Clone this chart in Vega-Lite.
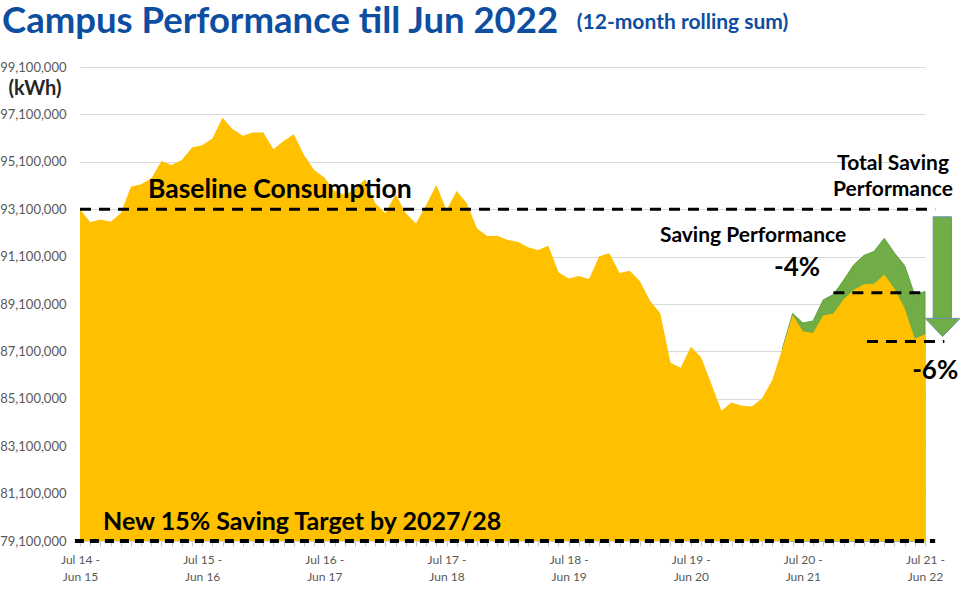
{
  "$schema": "https://vega.github.io/schema/vega-lite/v6.json",
  "autosize": "none",
  "width": 845,
  "height": 474,
  "padding": {"left": 80, "top": 67, "right": 35, "bottom": 59},
  "background": "white",
  "config": {"view": {"stroke": null}, "font": "Lato"},
  "title": {"text": "Campus Performance till Jun 2022", "anchor": "start", "frame": "group", "dx": -78, "dy": 58, "font": "Lato", "fontSize": 36.5, "fontWeight": "bold", "color": "#0D4EA1", "baseline": "alphabetic", "offset": 0},
  "datasets": {"energy": [
    {"i":0,"period":"Jul 14 - Jun 15","actual":93100000,"adjusted":null},
    {"i":1,"period":"Aug 14 - Jul 15","actual":92550000,"adjusted":null},
    {"i":2,"period":"Sep 14 - Aug 15","actual":92670000,"adjusted":null},
    {"i":3,"period":"Oct 14 - Sep 15","actual":92570000,"adjusted":null},
    {"i":4,"period":"Nov 14 - Oct 15","actual":92930000,"adjusted":null},
    {"i":5,"period":"Dec 14 - Nov 15","actual":94050000,"adjusted":null},
    {"i":6,"period":"Jan 15 - Dec 15","actual":94150000,"adjusted":null},
    {"i":7,"period":"Feb 15 - Jan 16","actual":94400000,"adjusted":null},
    {"i":8,"period":"Mar 15 - Feb 16","actual":95130000,"adjusted":null},
    {"i":9,"period":"Apr 15 - Mar 16","actual":94960000,"adjusted":null},
    {"i":10,"period":"May 15 - Apr 16","actual":95180000,"adjusted":null},
    {"i":11,"period":"Jun 15 - May 16","actual":95700000,"adjusted":null},
    {"i":12,"period":"Jul 15 - Jun 16","actual":95800000,"adjusted":null},
    {"i":13,"period":"Aug 15 - Jul 16","actual":96080000,"adjusted":null},
    {"i":14,"period":"Sep 15 - Aug 16","actual":96960000,"adjusted":null},
    {"i":15,"period":"Oct 15 - Sep 16","actual":96470000,"adjusted":null},
    {"i":16,"period":"Nov 15 - Oct 16","actual":96200000,"adjusted":null},
    {"i":17,"period":"Dec 15 - Nov 16","actual":96340000,"adjusted":null},
    {"i":18,"period":"Jan 16 - Dec 16","actual":96340000,"adjusted":null},
    {"i":19,"period":"Feb 16 - Jan 17","actual":95630000,"adjusted":null},
    {"i":20,"period":"Mar 16 - Feb 17","actual":95980000,"adjusted":null},
    {"i":21,"period":"Apr 16 - Mar 17","actual":96260000,"adjusted":null},
    {"i":22,"period":"May 16 - Apr 17","actual":95390000,"adjusted":null},
    {"i":23,"period":"Jun 16 - May 17","actual":94750000,"adjusted":null},
    {"i":24,"period":"Jul 16 - Jun 17","actual":94440000,"adjusted":null},
    {"i":25,"period":"Aug 16 - Jul 17","actual":93880000,"adjusted":null},
    {"i":26,"period":"Sep 16 - Aug 17","actual":93700000,"adjusted":null},
    {"i":27,"period":"Oct 16 - Sep 17","actual":93950000,"adjusted":null},
    {"i":28,"period":"Nov 16 - Oct 17","actual":94360000,"adjusted":null},
    {"i":29,"period":"Dec 16 - Nov 17","actual":93350000,"adjusted":null},
    {"i":30,"period":"Jan 17 - Dec 17","actual":92930000,"adjusted":null},
    {"i":31,"period":"Feb 17 - Jan 18","actual":93730000,"adjusted":null},
    {"i":32,"period":"Mar 17 - Feb 18","actual":92930000,"adjusted":null},
    {"i":33,"period":"Apr 17 - Mar 18","actual":92500000,"adjusted":null},
    {"i":34,"period":"May 17 - Apr 18","actual":93280000,"adjusted":null},
    {"i":35,"period":"Jun 17 - May 18","actual":94120000,"adjusted":null},
    {"i":36,"period":"Jul 17 - Jun 18","actual":93070000,"adjusted":null},
    {"i":37,"period":"Aug 17 - Jul 18","actual":93870000,"adjusted":null},
    {"i":38,"period":"Sep 17 - Aug 18","actual":93350000,"adjusted":null},
    {"i":39,"period":"Oct 17 - Sep 18","actual":92290000,"adjusted":null},
    {"i":40,"period":"Nov 17 - Oct 18","actual":91970000,"adjusted":null},
    {"i":41,"period":"Dec 17 - Nov 18","actual":91980000,"adjusted":null},
    {"i":42,"period":"Jan 18 - Dec 18","actual":91800000,"adjusted":null},
    {"i":43,"period":"Feb 18 - Jan 19","actual":91730000,"adjusted":null},
    {"i":44,"period":"Mar 18 - Feb 19","actual":91490000,"adjusted":null},
    {"i":45,"period":"Apr 18 - Mar 19","actual":91380000,"adjusted":null},
    {"i":46,"period":"May 18 - Apr 19","actual":91560000,"adjusted":null},
    {"i":47,"period":"Jun 18 - May 19","actual":90440000,"adjusted":null},
    {"i":48,"period":"Jul 18 - Jun 19","actual":90180000,"adjusted":null},
    {"i":49,"period":"Aug 18 - Jul 19","actual":90280000,"adjusted":null},
    {"i":50,"period":"Sep 18 - Aug 19","actual":90150000,"adjusted":null},
    {"i":51,"period":"Oct 18 - Sep 19","actual":91120000,"adjusted":null},
    {"i":52,"period":"Nov 18 - Oct 19","actual":91240000,"adjusted":null},
    {"i":53,"period":"Dec 18 - Nov 19","actual":90410000,"adjusted":null},
    {"i":54,"period":"Jan 19 - Dec 19","actual":90500000,"adjusted":null},
    {"i":55,"period":"Feb 19 - Jan 20","actual":90060000,"adjusted":null},
    {"i":56,"period":"Mar 19 - Feb 20","actual":89230000,"adjusted":null},
    {"i":57,"period":"Apr 19 - Mar 20","actual":88710000,"adjusted":null},
    {"i":58,"period":"May 19 - Apr 20","actual":86620000,"adjusted":null},
    {"i":59,"period":"Jun 19 - May 20","actual":86410000,"adjusted":null},
    {"i":60,"period":"Jul 19 - Jun 20","actual":87300000,"adjusted":null},
    {"i":61,"period":"Sep 19 - Aug 20","actual":86850000,"adjusted":null},
    {"i":62,"period":"Oct 19 - Sep 20","actual":85750000,"adjusted":null},
    {"i":63,"period":"Nov 19 - Oct 20","actual":84600000,"adjusted":null},
    {"i":64,"period":"Dec 19 - Nov 20","actual":84940000,"adjusted":null},
    {"i":65,"period":"Jan 20 - Dec 20","actual":84810000,"adjusted":null},
    {"i":66,"period":"Feb 20 - Jan 21","actual":84770000,"adjusted":null},
    {"i":67,"period":"Mar 20 - Feb 21","actual":85120000,"adjusted":null},
    {"i":68,"period":"Apr 20 - Mar 21","actual":85890000,"adjusted":null},
    {"i":69,"period":"May 20 - Apr 21","actual":87230000,"adjusted":87230000},
    {"i":70,"period":"Jun 20 - May 21","actual":88640000,"adjusted":88700000},
    {"i":71,"period":"Jul 20 - Jun 21","actual":87950000,"adjusted":88300000},
    {"i":72,"period":"Aug 20 - Jul 21","actual":87880000,"adjusted":88380000},
    {"i":73,"period":"Sep 20 - Aug 21","actual":88620000,"adjusted":89270000},
    {"i":74,"period":"Oct 20 - Sep 21","actual":88700000,"adjusted":89500000},
    {"i":75,"period":"Nov 20 - Oct 21","actual":89300000,"adjusted":90100000},
    {"i":76,"period":"Dec 20 - Nov 21","actual":89700000,"adjusted":90750000},
    {"i":77,"period":"Jan 21 - Dec 21","actual":89930000,"adjusted":91150000},
    {"i":78,"period":"Feb 21 - Jan 22","actual":89950000,"adjusted":91320000},
    {"i":79,"period":"Mar 21 - Feb 22","actual":90350000,"adjusted":91870000},
    {"i":80,"period":"Apr 21 - Mar 22","actual":89750000,"adjusted":91250000},
    {"i":81,"period":"May 21 - Apr 22","actual":88920000,"adjusted":90720000},
    {"i":82,"period":"Jun 21 - May 22","actual":87630000,"adjusted":89460000},
    {"i":83,"period":"Jul 21 - Jun 22","actual":87820000,"adjusted":89630000}
  ]},
  "layer": [
    {"data": {"name": "energy"},
      "transform": [{"filter": {"field": "adjusted", "valid": true}}],
      "mark": {"type": "area", "color": "#70AD47", "stroke": "#62A03C", "strokeWidth": 1},
      "encoding": {
        "x": {"field": "i", "type": "quantitative", "scale": {"domain": [0, 83], "nice": false, "zero": false},
          "axis": {"title": null, "grid": false, "domain": false, "tickCount": 100,
            "values": [0,1,2,3,4,5,6,7,8,9,10,11,12,13,14,15,16,17,18,19,20,21,22,23,24,25,26,27,28,29,30,31,32,33,34,35,36,37,38,39,40,41,42,43,44,45,46,47,48,49,50,51,52,53,54,55,56,57,58,59,60,61,62,63,64,65,66,67,68,69,70,71,72,73,74,75,76,77,78,79,80,81,82,83],
            "labelExpr": "datum.value == 0 ? ['Jul 14 -', 'Jun 15'] : datum.value == 12 ? ['Jul 15 -', 'Jun 16'] : datum.value == 24 ? ['Jul 16 -', 'Jun 17'] : datum.value == 36 ? ['Jul 17 -', 'Jun 18'] : datum.value == 48 ? ['Jul 18 -', 'Jun 19'] : datum.value == 60 ? ['Jul 19 -', 'Jun 20'] : datum.value == 71 ? ['Jul 20 -', 'Jun 21'] : datum.value == 83 ? ['Jul 21 -', 'Jun 22'] : ''",
            "labelOverlap": false, "labelFlush": false, "labelBound": false,
            "labelFont": "Lato", "labelFontSize": 12, "labelColor": "#595959", "labelLineHeight": 17,
            "labelPadding": 8, "tickSize": 5, "tickColor": "#c8c8c8", "tickWidth": 1}},
        "y": {"field": "adjusted", "type": "quantitative", "scale": {"domain": [79100000, 99100000], "nice": false, "zero": false},
          "axis": {"values": [79100000,81100000,83100000,85100000,87100000,89100000,91100000,93100000,95100000,97100000,99100000],
            "tickCount": 20, "format": ",d", "domain": false, "ticks": false, "grid": true, "gridColor": "#d9d9d9", "gridWidth": 1,
            "labelFont": "Lato", "labelFontSize": 13, "labelColor": "#595959", "labelPadding": 14,
            "title": "(kWh)", "titleAngle": 0, "titleAlign": "left", "titleBaseline": "middle", "titleX": -72, "titleY": 21,
            "titleFont": "Lato", "titleFontSize": 20, "titleFontWeight": "bold", "titleColor": "#262626"}},
        "y2": {"datum": 79100000}
      }},
    {"data": {"name": "energy"},
      "mark": {"type": "area", "color": "#FFC000"},
      "encoding": {
        "x": {"field": "i", "type": "quantitative"},
        "y": {"field": "actual", "type": "quantitative"},
        "y2": {"datum": 79100000}}},
    {"data": {"values": [{}]}, "mark": {"type": "rule", "color": "black", "strokeWidth": 3, "strokeDash": [11, 8]},
      "encoding": {"x": {"datum": 0, "type": "quantitative"}, "x2": {"datum": 84}, "y": {"datum": 93100000, "type": "quantitative"}}},
    {"data": {"values": [{}]}, "mark": {"type": "rule", "color": "black", "strokeWidth": 4, "strokeDash": [9, 6]},
      "encoding": {"x": {"datum": -0.5, "type": "quantitative"}, "x2": {"datum": 84}, "y": {"datum": 79100000, "type": "quantitative"}}},
    {"data": {"values": [{}]}, "mark": {"type": "rule", "color": "black", "strokeWidth": 3, "strokeDash": [11, 8]},
      "encoding": {"x": {"datum": 74, "type": "quantitative"}, "x2": {"datum": 83}, "y": {"datum": 89570000, "type": "quantitative"}}},
    {"data": {"values": [{}]}, "mark": {"type": "rule", "color": "black", "strokeWidth": 3, "strokeDash": [11, 8]},
      "encoding": {"x": {"datum": 77.3, "type": "quantitative"}, "x2": {"datum": 84.9}, "y": {"datum": 87514000, "type": "quantitative"}}},
    {"data": {"values": [{}]}, "mark": {"type": "rect", "color": "#70AD47", "stroke": "#6F8FAF", "strokeWidth": 1},
      "encoding": {"x": {"datum": 83.8, "type": "quantitative"}, "x2": {"datum": 85.6}, "y": {"datum": 92780000, "type": "quantitative"}, "y2": {"datum": 88470000}}},
    {"data": {"values": [{}]}, "mark": {"type": "point", "shape": "M-1,-0.52L1,-0.52L0,0.52Z", "filled": true, "size": 1225, "color": "#70AD47", "stroke": "#6F8FAF", "strokeWidth": 1, "opacity": 1},
      "encoding": {"x": {"datum": 84.73, "type": "quantitative"}, "y": {"datum": 88110000, "type": "quantitative"}}},
    {"data": {"values": [{}]}, "mark": {"type": "text", "text": "(12-month rolling sum)", "align": "left", "baseline": "middle", "font": "Lato", "fontSize": 21, "fontWeight": "bold", "color": "#0D4EA1"},
      "encoding": {"x": {"datum": 48.8, "type": "quantitative"}, "y": {"datum": 100957000, "type": "quantitative"}}},
    {"data": {"values": [{}]}, "mark": {"type": "text", "text": "Baseline Consumption", "align": "left", "baseline": "middle", "font": "Lato", "fontSize": 26.5, "fontWeight": "bold", "color": "black"},
      "encoding": {"x": {"datum": 6.68, "type": "quantitative"}, "y": {"datum": 93910000, "type": "quantitative"}}},
    {"data": {"values": [{}]}, "mark": {"type": "text", "text": "Saving Performance", "align": "left", "baseline": "middle", "font": "Lato", "fontSize": 21, "fontWeight": "bold", "color": "black"},
      "encoding": {"x": {"datum": 56.97, "type": "quantitative"}, "y": {"datum": 91970000, "type": "quantitative"}}},
    {"data": {"values": [{}]}, "mark": {"type": "text", "text": "-4%", "align": "center", "baseline": "middle", "font": "Lato", "fontSize": 26, "fontWeight": "bold", "color": "black"},
      "encoding": {"x": {"datum": 70.43, "type": "quantitative"}, "y": {"datum": 90620000, "type": "quantitative"}}},
    {"data": {"values": [{}]}, "mark": {"type": "text", "text": "-6%", "align": "center", "baseline": "middle", "font": "Lato", "fontSize": 26, "fontWeight": "bold", "color": "black"},
      "encoding": {"x": {"datum": 84.0, "type": "quantitative"}, "y": {"datum": 86270000, "type": "quantitative"}}},
    {"data": {"values": [{}]}, "mark": {"type": "text", "text": ["Total Saving", "Performance"], "lineHeight": 26, "align": "center", "baseline": "middle", "font": "Lato", "fontSize": 21, "fontWeight": "bold", "color": "black"},
      "encoding": {"x": {"datum": 79.86, "type": "quantitative"}, "y": {"datum": 95010000, "type": "quantitative"}}},
    {"data": {"values": [{}]}, "mark": {"type": "text", "text": "New 15% Saving Target by 2027/28", "align": "left", "baseline": "middle", "font": "Lato", "fontSize": 25, "fontWeight": "bold", "color": "black"},
      "encoding": {"x": {"datum": 2.26, "type": "quantitative"}, "y": {"datum": 79900000, "type": "quantitative"}}}
  ]
}
